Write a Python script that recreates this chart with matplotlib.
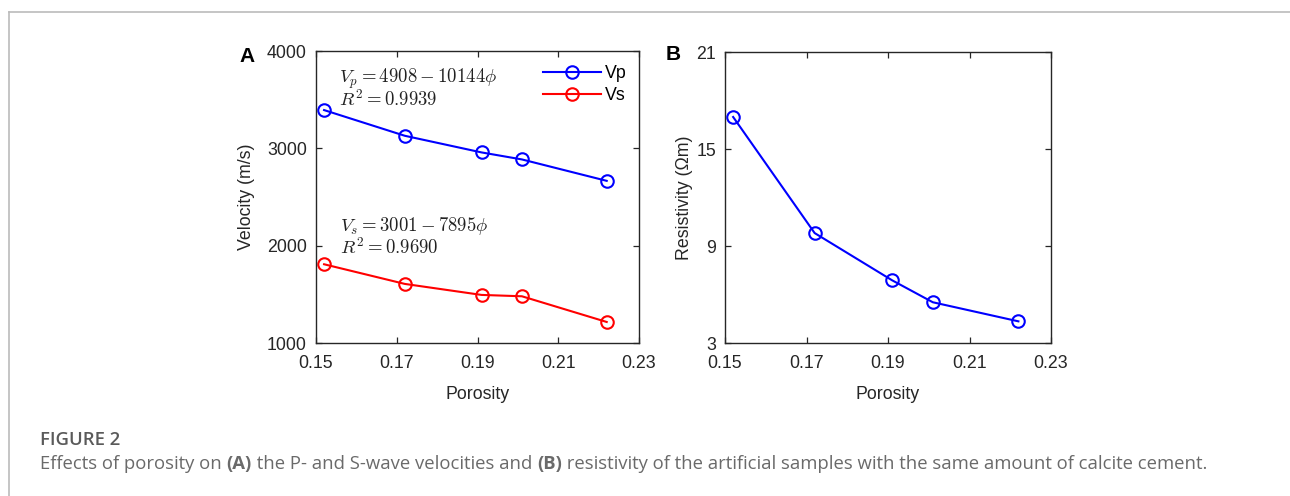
import matplotlib.pyplot as plt
import matplotlib.lines as mlines

plt.rcParams['font.family'] = ['Liberation Sans', 'DejaVu Sans']
plt.rcParams['mathtext.fontset'] = 'cm'

porosity = [0.152, 0.172, 0.191, 0.201, 0.222]
vp = [3393, 3129, 2958, 2886, 2666]
vs = [1809, 1607, 1494, 1480, 1216]
resistivity = [16.98, 9.8, 6.88, 5.52, 4.34]

xticks = [0.15, 0.17, 0.19, 0.21, 0.23]
vticks = [1000, 2000, 3000, 4000]
rticks = [3, 9, 15, 21]

W, H = 1290, 496
fig = plt.figure(figsize=(W / 100, H / 100), dpi=100)

def px_axes(l, t, r, b):
    return fig.add_axes([l / W, 1 - b / H, (r - l) / W, (b - t) / H])

dark = '#262626'
fs = 12.8

def style(ax):
    ax.tick_params(direction='in', top=True, right=True, length=4, width=0.9,
                   labelsize=fs, colors=dark)
    ax.tick_params(axis='x', pad=8.5)
    ax.tick_params(axis='y', pad=6.5)
    for s in ax.spines.values():
        s.set_color(dark)
        s.set_linewidth(1.0)

# panel A
axA = px_axes(316, 51, 639, 343)
axA.plot(porosity, vp, '-o', color='blue', lw=1.5, ms=9, mfc='none', mew=1.5, label='Vp')
axA.plot(porosity, vs, '-o', color='red', lw=1.5, ms=9, mfc='none', mew=1.5, label='Vs')
axA.set_xlim(0.15, 0.23)
axA.set_ylim(1000, 4000)
axA.set_xticks(xticks)
axA.set_xticklabels(['%.2f' % t for t in xticks])
axA.set_yticks(vticks)
style(axA)
axA.set_xlabel('Porosity', fontsize=fs, color=dark, labelpad=10.5)
axA.set_ylabel('Velocity (m/s)', fontsize=fs, color=dark, labelpad=9)
eq = dict(fontsize=13.5, va='center', color='#222222')
axA.text(0.1557, 3712, r'$V_p = 4908 - 10144\phi$', **eq)
axA.text(0.1557, 3497, r'$R^2 = 0.9939$', **eq)
axA.text(0.1559, 2202, r'$V_s = 3001 - 7895\phi$', **eq)
axA.text(0.1559, 1986, r'$R^2 = 0.9690$', **eq)
leg = axA.legend(frameon=False, loc='upper right', bbox_to_anchor=(1.0, 0.995),
                 fontsize=fs, handlelength=3.3, handletextpad=0.2, labelspacing=0.3,
                 borderaxespad=0.3)
fig.text(247 / W, 1 - 57 / H, 'A', fontsize=15, fontweight='bold', va='center',
         ha='center', color='black')

# panel B
axB = px_axes(725, 52, 1051, 343)
axB.plot(porosity, resistivity, '-o', color='blue', lw=1.5, ms=9, mfc='none', mew=1.5)
axB.set_xlim(0.15, 0.23)
axB.set_ylim(3, 21)
axB.set_xticks(xticks)
axB.set_xticklabels(['%.2f' % t for t in xticks])
axB.set_yticks(rticks)
style(axB)
axB.set_xlabel('Porosity', fontsize=fs, color=dark, labelpad=10.5)
axB.set_ylabel('Resistivity (\u03a9m)', fontsize=fs, color=dark, labelpad=2)
fig.text(673 / W, 1 - 55 / H, 'B', fontsize=15, fontweight='bold', va='center',
         ha='center', color='black')

# frame of the figure
fig.add_artist(mlines.Line2D([9 / W, 9 / W], [0, 1 - 12 / H], color='#bbbbbb', lw=1.2))
fig.add_artist(mlines.Line2D([9 / W, 1], [1 - 12 / H, 1 - 12 / H], color='#bbbbbb', lw=1.2))

# caption
cap_font = ['Open Sans', 'DejaVu Sans']
fig.text(40 / W, 1 - 440 / H, 'FIGURE 2', fontsize=13.3, color='#5a5a5a', va='center',
         fontweight='semibold', family=cap_font)
pieces = [('Effects of porosity on ', 'normal'), ('(A)', 'bold'),
          (' the P- and S-wave velocities and ', 'normal'), ('(B)', 'bold'),
          (' resistivity of the artificial samples with the same amount of calcite cement.', 'normal')]
renderer = fig.canvas.get_renderer()
x = 40
for txt, wt in pieces:
    t = fig.text(x / W, 1 - 464 / H, txt, fontsize=13.3, color='#6a6a6a', va='center',
                 fontweight=wt, family=cap_font)
    bb = t.get_window_extent(renderer=renderer)
    x += bb.width

fig.savefig('out.png', dpi=100)
